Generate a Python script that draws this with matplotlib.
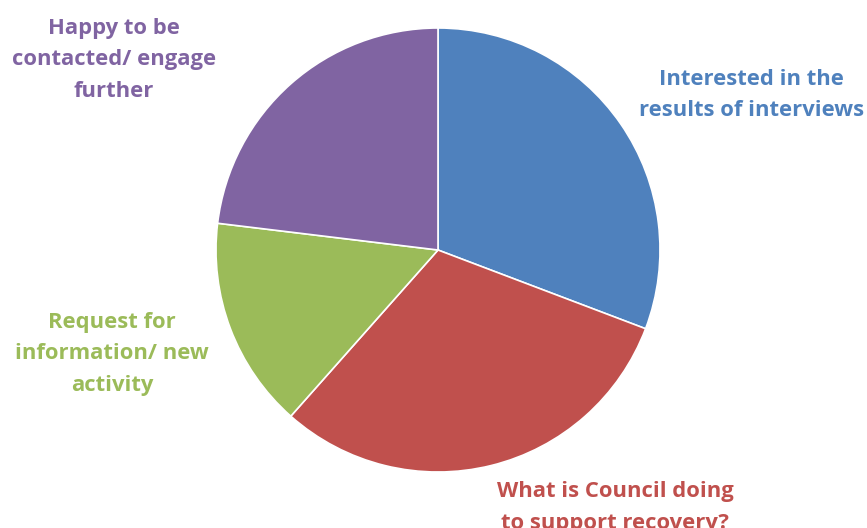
import matplotlib
matplotlib.use("Agg")
import matplotlib.pyplot as plt

categories = [
    "Interested in the\nresults of interviews",
    "What is Council doing\nto support recovery?",
    "Request for\ninformation/ new\nactivity",
    "Happy to be\ncontacted/ engage\nfurther",
]
values = [4, 4, 2, 3]
colors = ["#4F81BD", "#C0504D", "#9BBB59", "#8064A2"]
label_pos = [(1.414, 0.698), (0.797, -1.16), (-1.468, -0.468), (-1.459, 0.856)]


def main():
    plt.rcParams['font.family'] = ['Open Sans', 'DejaVu Sans']
    fig = plt.figure(figsize=(8.67, 5.28), dpi=100)
    ax = fig.add_axes([216 / 867, 56 / 528, 444 / 867, 444 / 528])

    ax.pie(values, colors=colors, startangle=90, counterclock=False,
           wedgeprops=dict(edgecolor="white", linewidth=1.2))
    ax.set_xlim(-1, 1)
    ax.set_ylim(-1, 1)
    ax.set_aspect("equal")
    ax.axis("off")

    for label, (x, y), c in zip(categories, label_pos, colors):
        ax.text(x, y, label, color=c, fontsize=15.8, fontweight="bold",
                ha="center", va="center", linespacing=1.66, clip_on=False)

    fig.savefig("out.png", dpi=100)


if __name__ == "__main__":
    main()
